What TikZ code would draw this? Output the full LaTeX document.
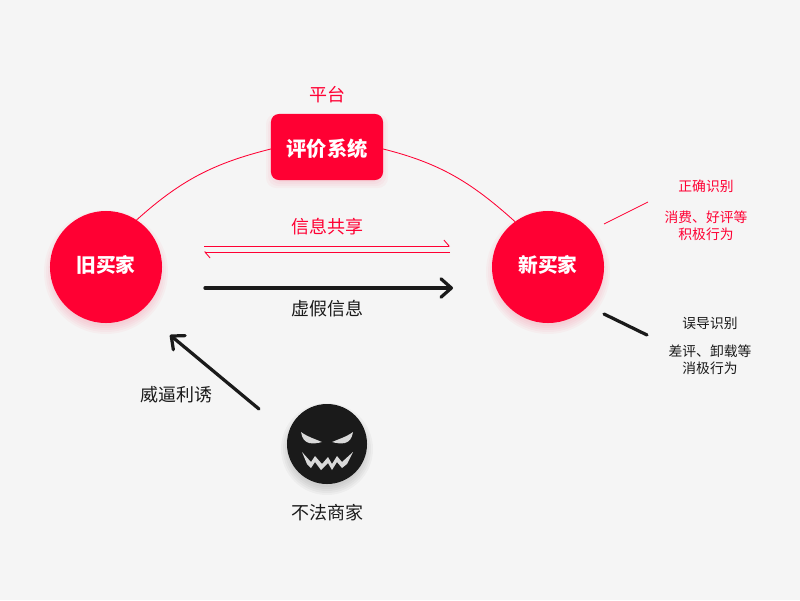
\documentclass[tikz,border=0pt]{standalone}
\usepackage{fontspec}
\setmainfont{Noto Sans CJK SC}
\usetikzlibrary{positioning,arrows.meta,calc}
\definecolor{bgpage}{HTML}{F5F5F5}
\definecolor{redmain}{HTML}{FF0033}
\definecolor{inkdark}{HTML}{1A1A1A}
\newcommand{\softshadow}[4]{% centre, radius, colour, drop
  \foreach \k in {9,7,...,1}
    \fill[#3, opacity=0.03] ($(#1)+(0,#4)$) circle ({#2+\k-3});
}
\begin{document}
\begin{tikzpicture}[
  x=0.025cm, y=-0.025cm,
  buyer/.style={circle, fill=redmain, text=white, minimum size=2.8cm, inner sep=0pt, outer sep=0pt,
                font=\fontsize{14}{16}\bfseries},
  platform/.style={rectangle, rounded corners=0.2cm, fill=redmain, text=white, minimum width=2.8cm,
                minimum height=1.65cm, inner sep=0pt, outer sep=0pt, font=\fontsize{14.4}{17}\bfseries},
  lbl/.style={inner sep=0pt, font=\fontsize{12.8}{15}\selectfont},
  note/.style={inner sep=0pt, align=center, font=\fontsize{9.8}{12.2}\selectfont},
  thinred/.style={redmain, line width=0.6pt},
  thickdark/.style={inkdark, line width=2.3pt, line cap=round},
  harp/.style={-{Straight Barb[harpoon, length=1.3mm, width=3mm]}, thinred},
  bigtip/.style={-{Straight Barb[length=2.6mm, width=4.6mm, line width=2.3pt, round]}, thickdark},
]
\useasboundingbox (0,0) rectangle (800,600);
\fill[bgpage] (0,0) rectangle (800,600);

% shadows
\softshadow{106,267}{56}{redmain}{5}
\softshadow{548,267}{56}{redmain}{5}
\softshadow{327,444}{40}{black}{5}
\foreach \k in {8,6,...,2}
  \fill[redmain, opacity=0.03, rounded corners=0.25cm]
    ({271-\k+3},{114-\k+8}) rectangle ({383+\k-3},{180+\k});

\node[buyer] (oldbuyer) at (106,267) {\raisebox{1.2pt}[\height][\depth]{旧买家}};
\node[buyer] (newbuyer) at (548,267) {\raisebox{1.2pt}[\height][\depth]{新买家}};
\node[platform] (system) at (327,147) {\raisebox{-1.5pt}[\height][\depth]{评价系统}};
\node[lbl, text=redmain] (platformname) at (327,95) {平台};

\draw[thinred] (oldbuyer.57) to[out=42, in=194] (system.182.6);
\draw[thinred] (system.-2.6) to[out=-14, in=138] (newbuyer.126);

% arrows in the middle
\coordinate (sharestart) at (204,246);
\coordinate (shareend) at (450,246);
\coordinate (backstart) at (450,252);
\coordinate (backend) at (204,252);
\draw[harp] (sharestart) -- (shareend);
\draw[harp] (backstart) -- (backend);
\node[lbl, text=redmain] (sharetext) at (327,227) {信息共享};

\coordinate (fakestart) at (205,288);
\coordinate (fakeend) at (453,288);
\draw[bigtip] (fakestart) -- (fakeend);
\node[lbl, text=inkdark] (faketext) at (327,308.5) {虚假信息};

% merchant
\node[circle, fill=inkdark, minimum size=2cm, inner sep=0pt, outer sep=0pt] (merchant) at (327,444) {};
\fill[black!15] (301,432) .. controls (308,437) and (315,439) .. (322,442)
  .. controls (314,444) and (303,446) .. (301,432) -- cycle;
\fill[black!15] (353,432) .. controls (346,437) and (339,439) .. (332,442)
  .. controls (340,444) and (351,446) .. (353,432) -- cycle;
\fill[black!15] (302,452) -- (311,462) -- (315,456) -- (322,464) -- (328,457) -- (332,464) -- (337,456)
  -- (342,462) -- (353,452) -- (347,464) -- (342,468) -- (337,462) -- (332,470) -- (328,463)
  -- (321,470) -- (315,462) -- (311,468) -- (307,464) -- cycle;
\node[lbl, text=inkdark] (merchantname) at (327,513) {不法商家};

\coordinate (threatstart) at (259,409);
\coordinate (threatend) at (170,335);
\draw[bigtip] (threatstart) -- (threatend);
\node[lbl, text=inkdark] (threattext) at (176,395) {威逼利诱};

% notes on the right
\coordinate (rightstart) at (604,224);
\coordinate (rightend) at (648,202);
\draw[thinred] (rightstart) -- (rightend);
\node[note, text=redmain] (righthead) at (706,186) {正确识别};
\node[note, text=redmain] (rightnote) at (706,226) {消费、好评等\\积极行为};

\coordinate (wrongstart) at (604,314);
\coordinate (wrongend) at (647,335);
\draw[thickdark] (wrongstart) -- (wrongend);
\node[note, text=inkdark] (wronghead) at (710,323) {误导识别};
\node[note, text=inkdark] (wrongnote) at (710,359.5) {差评、卸载等\\消极行为};
\end{tikzpicture}
\end{document}
